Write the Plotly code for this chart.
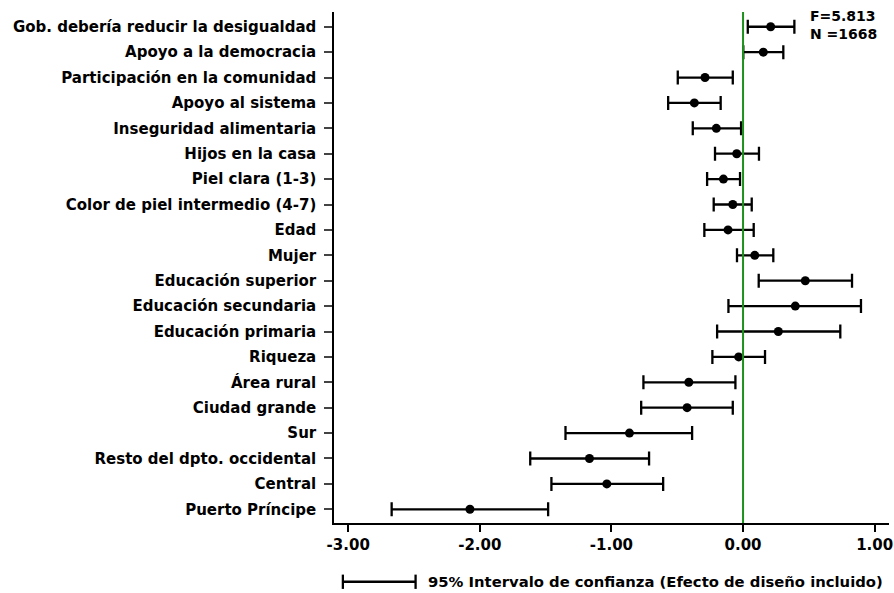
import plotly.graph_objects as go

categories = [
    "Gob. debería reducir la desigualdad",
    "Apoyo a la democracia",
    "Participación en la comunidad",
    "Apoyo al sistema",
    "Inseguridad alimentaria",
    "Hijos en la casa",
    "Piel clara (1-3)",
    "Color de piel intermedio (4-7)",
    "Edad",
    "Mujer",
    "Educación superior",
    "Educación secundaria",
    "Educación primaria",
    "Riqueza",
    "Área rural",
    "Ciudad grande",
    "Sur",
    "Resto del dpto. occidental",
    "Central",
    "Puerto Príncipe",
]
coef = [0.210, 0.154, -0.289, -0.370, -0.203, -0.048, -0.149, -0.078, -0.114, 0.089,
        0.473, 0.397, 0.268, -0.033, -0.412, -0.425, -0.863, -1.167, -1.035, -2.075]
ci_low = [0.036, 0.002, -0.496, -0.569, -0.382, -0.213, -0.273, -0.223, -0.294, -0.046,
          0.119, -0.111, -0.197, -0.233, -0.757, -0.774, -1.349, -1.617, -1.456, -2.670]
ci_high = [0.390, 0.306, -0.078, -0.170, -0.015, 0.121, -0.023, 0.066, 0.081, 0.230,
           0.828, 0.896, 0.739, 0.167, -0.058, -0.078, -0.387, -0.714, -0.607, -1.481]
x_tick_vals = [-3, -2, -1, 0, 1]
x_tick_labels = ["-3.00", "-2.00", "-1.00", "0.00", "1.00"]
stats_text = "F=5.813<br>N =1668"
legend_text = "95% Intervalo de confianza (Efecto de diseño incluido)"

idx = list(range(len(categories)))
err_plus = [h - c for h, c in zip(ci_high, coef)]
err_minus = [c - l for c, l in zip(coef, ci_low)]

FONT = "DejaVu Sans"
FS = 15

fig = go.Figure()
fig.add_trace(go.Scatter(
    x=coef, y=idx, mode="markers",
    marker=dict(color="black", size=9),
    error_x=dict(type="data", symmetric=False, array=err_plus, arrayminus=err_minus,
                 color="black", thickness=2.3, width=7),
    showlegend=False, hoverinfo="skip",
))

fig.add_shape(type="line", xref="x", yref="paper", x0=0, x1=0, y0=0, y1=1,
              line=dict(color="#1c921c", width=2))

# legend sample (bottom)
ly = -0.115
fig.add_shape(type="line", xref="paper", yref="paper", x0=0.016, x1=0.147, y0=ly, y1=ly,
              line=dict(color="black", width=2.3))
for xx in (0.016, 0.147):
    fig.add_shape(type="line", xref="paper", yref="paper", x0=xx, x1=xx,
                  y0=ly - 0.014, y1=ly + 0.014, line=dict(color="black", width=2.3))
fig.add_annotation(xref="paper", yref="paper", x=0.166, y=ly, xanchor="left", yanchor="middle",
                   text="<b>" + legend_text + "</b>", showarrow=False,
                   font=dict(family=FONT, size=14.8, color="black"))

fig.add_annotation(xref="paper", yref="paper", x=0.982, y=1.012, xanchor="right", yanchor="top",
                   text="<b>" + stats_text + "</b>", showarrow=False, align="left",
                   font=dict(family=FONT, size=14, color="black"))

fig.update_layout(
    width=894, height=593,
    margin=dict(l=334, r=5, t=12, b=70),
    plot_bgcolor="white", paper_bgcolor="white",
    font=dict(family=FONT, size=FS, color="black"),
    xaxis=dict(range=[-3.108, 1.109], tickvals=x_tick_vals, automargin=False,
               ticktext=["<b>" + t + "</b>" for t in x_tick_labels],
               showgrid=False, zeroline=False, showline=True, linecolor="black", linewidth=1.5,
               ticks="outside", ticklen=7, tickcolor="black", tickwidth=1.5,
               tickfont=dict(family=FONT, size=FS, color="black")),
    yaxis=dict(range=[19.54, -0.58], tickvals=idx, automargin=False, ticklabelstandoff=5,
               ticktext=["<b>" + c + "</b>" for c in categories],
               showgrid=False, zeroline=False, showline=True, linecolor="black", linewidth=1.5,
               ticks="outside", ticklen=8, tickcolor="#444", tickwidth=1.5,
               tickfont=dict(family=FONT, size=FS, color="black")),
)

fig.write_html("out.html", config={"displayModeBar": False},
               post_script="document.body.style.margin='0';")
